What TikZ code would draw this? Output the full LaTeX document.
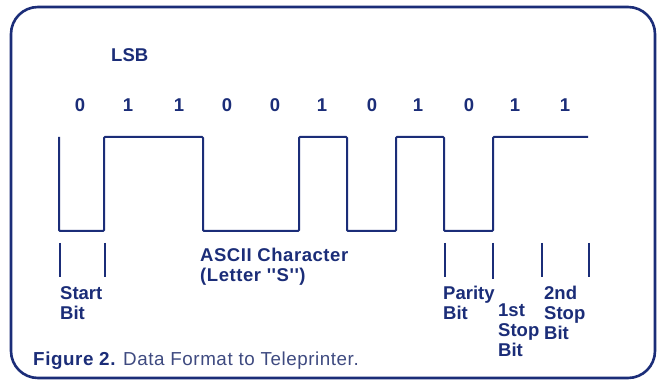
\documentclass[tikz,border=0pt]{standalone}
\usepackage{fontspec}
\setmainfont{Liberation Sans}
\newfontfamily\widefont{Liberation Sans}[LetterSpace=3]
\definecolor{navy}{RGB}{27,45,120}
\definecolor{capgray}{RGB}{62,74,128}
\begin{document}
\begin{tikzpicture}[x=1pt,y=-1pt,
  lbl/.style={anchor=base west, inner sep=0pt, text=navy, font=\fontsize{18.5}{20}\selectfont\bfseries, align=left},
  bitlbl/.style={anchor=base, inner sep=0pt, text=navy, font=\fontsize{18.5}{20}\selectfont\bfseries},
  wave/.style={draw=navy, line width=2pt, rounded corners=1pt},
  tickln/.style={draw=navy, line width=2pt},
  frameln/.style={draw=navy, line width=2.6pt, rounded corners=27pt}]
\useasboundingbox (0,0) rectangle (665,382);
\fill[white] (0,0) rectangle (665,382);
\draw[frameln] (11,7) rectangle (655,378);
% waveform
\draw[wave] (59,137) -- (59,231) -- (104,231) -- (104,137) -- (203,137) -- (203,231)
  -- (299,231) -- (299,137) -- (347,137) -- (347,231) -- (396,231) -- (396,137)
  -- (444,137) -- (444,231) -- (493,231) -- (493,137) -- (588,137);
% ticks
\foreach \x/\b in {60/277,105/277,445/277,493/279,542/277,589/277}
  \draw[tickln] (\x,243) -- (\x,\b);
% bit values
\foreach \x/\v [count=\i] in {80/0,128/1,179/1,227/0,275/0,322/1,372/0,418/1,469/0,515/1,565/1}
  \node[bitlbl] (b\i) at (\x,112) {\v};
\node[lbl] (lsb) at (111,62) {LSB};
% multi-line nodes: base anchor is the baseline of the last line
\node[lbl] (ascii) at (200,282) {\widefont ASCII\ Character\\\widefont(Letter ''S'')};
\node[lbl] (start) at (60,320) {Start\\Bit};
\node[lbl] (parity) at (443,320) {Parity\\Bit};
\node[lbl] (stop1) at (498,357) {1st\\Stop\\Bit};
\node[lbl] (stop2) at (544,340) {2nd\\Stop\\Bit};
\node[anchor=base west, inner sep=0pt, font=\fontsize{18.8}{20}\selectfont\widefont] (cap) at (33,366)
  {\textcolor{navy}{\bfseries Figure 2.} \textcolor{capgray}{Data Format to Teleprinter.}};
\end{tikzpicture}
\end{document}
